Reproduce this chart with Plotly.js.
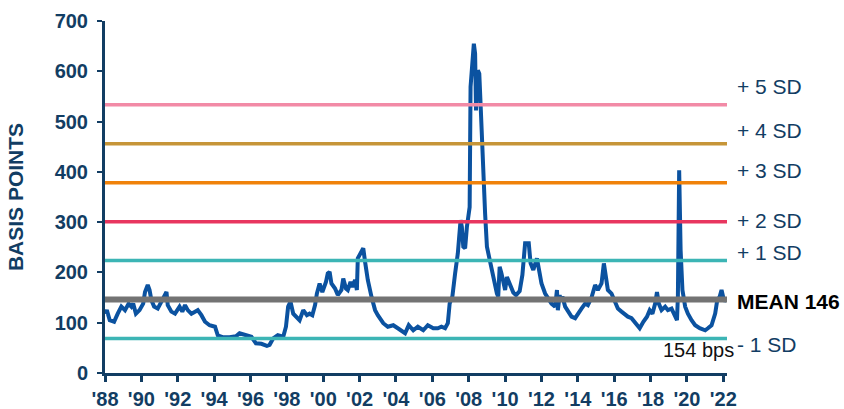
<!DOCTYPE html>
<html>
<head>
<meta charset="utf-8">
<script src="https://cdn.plot.ly/plotly-3.0.1.min.js"></script>
<style>
html,body{margin:0;padding:0;background:#fff;}
#chart{width:844px;height:409px;}
</style>
</head>
<body>
<div id="chart"></div>
<script>
// Spread series (decimal year, basis points)
const years = [
1988.0,1988.1,1988.26,1988.5,1988.7,1988.9,1989.1,1989.3,1989.45,1989.55,1989.7,1989.9,
1990.1,1990.2,1990.35,1990.45,1990.55,1990.7,1990.9,1991.1,1991.3,1991.38,1991.45,1991.65,1991.85,
1992.0,1992.1,1992.25,1992.4,1992.55,1992.75,1992.95,1993.1,1993.3,1993.5,1993.75,
1994.05,1994.2,1994.5,1994.85,1995.2,1995.4,1995.7,1996.05,1996.3,1996.6,1996.9,
1997.05,1997.25,1997.5,1997.8,1997.95,1998.07,1998.2,1998.35,1998.55,1998.7,1998.9,
1999.1,1999.25,1999.4,1999.55,1999.65,1999.8,1999.95,2000.15,2000.25,2000.35,2000.45,2000.65,2000.8,
2001.0,2001.1,2001.25,2001.35,2001.5,2001.6,2001.75,2001.85,2001.9,2002.1,2002.2,2002.3,2002.45,2002.65,2002.85,
2003.0,2003.3,2003.55,2003.85,2004.1,2004.5,2004.7,2004.95,2005.2,2005.5,2005.75,
2006.05,2006.3,2006.5,2006.7,2006.85,2006.95,2007.1,2007.25,2007.4,2007.55,2007.62,2007.7,2007.8,2007.9,
2008.05,2008.1,2008.18,2008.28,2008.35,2008.4,2008.5,2008.58,2008.65,2008.75,2008.85,2008.9,
2009.0,2009.15,2009.35,2009.55,2009.62,2009.7,2009.8,2010.0,2010.1,2010.25,2010.45,2010.6,2010.8,2010.95,
2011.1,2011.3,2011.4,2011.55,2011.75,2011.9,2012.0,2012.2,2012.4,2012.55,2012.75,2012.85,2012.9,2013.0,
2013.05,2013.15,2013.3,2013.45,2013.65,2013.85,2014.0,2014.2,2014.4,2014.55,2014.75,2014.95,
2015.1,2015.3,2015.43,2015.55,2015.65,2015.85,2016.05,2016.2,2016.4,2016.6,2016.75,2016.95,
2017.15,2017.25,2017.4,2017.6,2017.8,2017.95,2018.1,2018.25,2018.35,2018.45,2018.6,2018.8,2018.95,
2019.15,2019.35,2019.45,2019.5,2019.57,2019.65,2019.75,2019.9,2020.05,2020.25,2020.45,2020.7,
2021.0,2021.15,2021.35,2021.55,2021.65,2021.8,2021.9,2022.05,2022.15];
const spread = [
118,125,105,102,118,132,125,138,132,138,118,125,
138,161,175,165,145,132,128,142,158,161,135,122,118,
125,132,122,135,125,118,122,125,115,102,95,
92,75,71,71,73,79,75,72,59,58,54,
56,69,75,72,92,132,142,118,109,105,125,
115,118,115,135,158,178,161,181,198,201,178,168,155,
165,188,168,165,181,171,185,165,228,241,248,221,185,152,125,
115,99,92,95,89,79,95,85,92,85,95,
89,89,92,89,99,138,152,198,238,304,291,251,248,291,
330,569,615,655,635,522,602,595,536,436,330,317,
251,224,195,158,152,211,198,165,191,178,160,155,163,195,
258,258,218,205,228,198,178,158,145,138,132,165,125,155,
145,152,132,122,112,109,118,128,138,135,150,175,
165,178,218,191,165,158,138,128,122,115,112,109,
99,95,89,102,112,125,118,138,161,138,125,132,125,
128,115,105,152,403,244,165,132,118,105,95,89,
85,89,95,118,142,152,165,142,148];

// Mean and standard-deviation bands
const meanValue = 146;
const sdValue = 77.5;
const bandMultiples = [5, 4, 3, 2, 1, -1];
const bandColors = ['#f28aa6', '#c69538', '#f0820a', '#e8365f', '#3cb5b5', '#3cb5b5'];
const bandLabels = ['+ 5 SD', '+ 4 SD', '+ 3 SD', '+ 2 SD', '+ 1 SD', '- 1 SD'];
const bandLabelY = [569, 483, 402, 304, 239, 57];
const meanLabel = 'MEAN 146';
const meanLabelY = 142;
const noteLabel = '154 bps';
const noteY = 46;

// Axis ticks
const xTickVals = [1988,1990,1992,1994,1996,1998,2000,2002,2004,2006,2008,2010,2012,2014,2016,2018,2020,2022];
const xTickText = ["'88","'90","'92","'94","'96","'98","'00","'02","'04","'06","'08","'10","'12","'14","'16","'18","'20","'22"];
const yTickVals = [0,100,200,300,400,500,600,700];
const yTitle = 'BASIS POINTS';

const xStart = 1988, xEnd = 2022.2;
const navy = '#123d63';
const font = 'Arial, "Liberation Sans", sans-serif';

const traces = [{
  x: years, y: spread, type: 'scatter', mode: 'lines',
  line: {color: '#0b52a0', width: 4}, hoverinfo: 'skip'
}];
bandMultiples.forEach((k, i) => {
  const v = meanValue + k * sdValue;
  traces.push({x: [xStart, xEnd], y: [v, v], type: 'scatter', mode: 'lines',
    line: {color: bandColors[i], width: 3.5}, hoverinfo: 'skip'});
});
traces.push({x: [xStart, xEnd], y: [meanValue, meanValue], type: 'scatter', mode: 'lines',
  line: {color: '#737373', width: 6}, hoverinfo: 'skip'});

const labelX = 1.013;
const annotations = bandLabels.map((t, i) => ({
  text: t, x: labelX, y: bandLabelY[i], xref: 'paper', yref: 'y', xanchor: 'left', yanchor: 'middle',
  showarrow: false, font: {family: font, size: 21, color: navy}
}));
annotations.push({text: meanLabel, x: labelX, y: meanLabelY, xref: 'paper', yref: 'y', xanchor: 'left', yanchor: 'middle',
  showarrow: false, font: {family: font, size: 21, color: '#000', weight: 'bold'}});
annotations.push({text: noteLabel, x: 1.014, y: noteY, xref: 'paper', yref: 'y', xanchor: 'right', yanchor: 'middle',
  showarrow: false, font: {family: font, size: 20, color: '#111'}});

const layout = {
  width: 844, height: 409,
  margin: {l: 105, r: 117, t: 21, b: 36},
  paper_bgcolor: '#fff', plot_bgcolor: '#fff',
  showlegend: false,
  font: {family: font},
  xaxis: {
    range: [xStart, xEnd], tickvals: xTickVals, ticktext: xTickText,
    showgrid: false, zeroline: false, showline: true, linecolor: navy, linewidth: 3,
    ticks: 'outside', ticklen: 6, tickwidth: 3, tickcolor: navy,
    tickfont: {family: font, size: 20, color: navy, weight: 'bold'}
  },
  yaxis: {
    range: [0, 700], tickvals: yTickVals,
    showgrid: false, zeroline: false, showline: true, linecolor: navy, linewidth: 3,
    ticks: 'outside', ticklen: 5, tickwidth: 2, tickcolor: navy, ticklabelstandoff: 5,
    tickfont: {family: font, size: 20, color: navy, weight: 'bold'},
    title: {text: yTitle, font: {family: font, size: 21, color: navy, weight: 'bold'}, standoff: 26}
  },
  annotations: annotations
};

Plotly.newPlot('chart', traces, layout, {staticPlot: true, displayModeBar: false});
</script>
</body>
</html>
